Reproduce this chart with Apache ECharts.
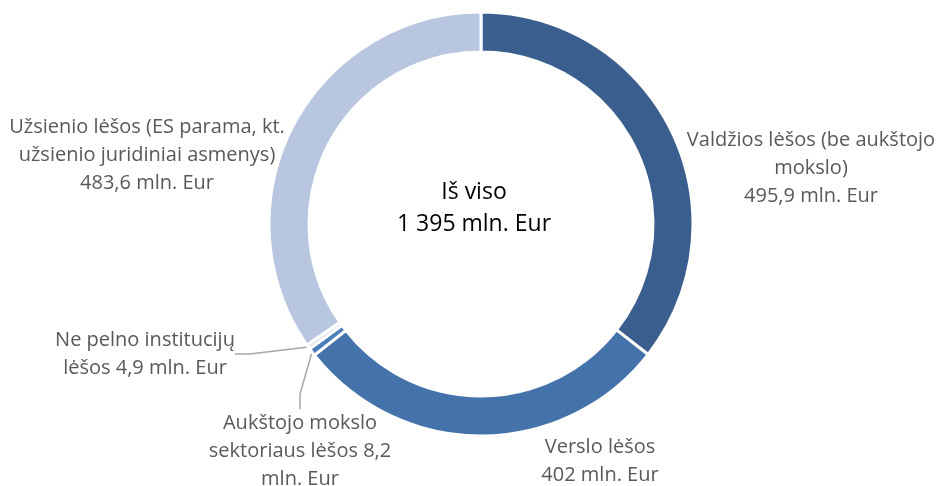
<!DOCTYPE html>
<html>
<head>
<meta charset="utf-8">
<script src="https://cdn.jsdelivr.net/npm/echarts@6/dist/echarts.min.js"></script>
<style>
  html, body { margin: 0; padding: 0; background: #fff; }
  #chart { width: 939px; height: 486px; }
</style>
</head>
<body>
<div id="chart"></div>
<script>
// duomenys
var categories = [
  "Valdžios lėšos (be aukštojo mokslo)",
  "Verslo lėšos",
  "Aukštojo mokslo sektoriaus lėšos",
  "Ne pelno institucijų lėšos",
  "Užsienio lėšos (ES parama, kt. užsienio juridiniai asmenys)"
];
var values = [495.9, 402, 8.2, 4.9, 483.6];
var labelTexts = [
  "Valdžios lėšos (be aukštojo\nmokslo)\n495,9 mln. Eur",
  "Verslo lėšos\n402 mln. Eur",
  "Aukštojo mokslo\nsektoriaus lėšos 8,2\nmln. Eur",
  "Ne pelno institucijų\nlėšos 4,9 mln. Eur",
  "Užsienio lėšos (ES parama, kt.\nužsienio juridiniai asmenys)\n483,6 mln. Eur"
];
var totalText = "Iš viso\n1 395 mln. Eur";

var colors = ["#3A5E8D", "#4472AA", "#4A7EBB", "#DCE3EF", "#B9C6E0"];
// etikečių vietos (centras)
var labelPos = [[811, 168], [600, 461], [300, 451], [145, 354], [147, 155]];

var chart = echarts.init(document.getElementById("chart"));

var data = values.map(function (v, i) {
  return {
    name: categories[i],
    value: v,
    itemStyle: { color: colors[i] },
    labelLine: { show: i === 2 || i === 3 }
  };
});

var option = {
  animation: false,
  textStyle: { fontFamily: "Open Sans" },
  graphic: [{
    type: "text",
    x: 474,
    y: 208,
    style: {
      text: totalText,
      fill: "#000",
      font: "23px 'Open Sans'",
      lineHeight: 32,
      textAlign: "center",
      textVerticalAlign: "middle"
    }
  }],
  series: [{
    type: "pie",
    center: [481, 224],
    radius: [172, 212],
    startAngle: 90,
    clockwise: true,
    avoidLabelOverlap: false,
    itemStyle: { borderColor: "#fff", borderWidth: 3 },
    label: {
      show: true,
      color: "#595959",
      fontSize: 20,
      lineHeight: 28,
      align: "center",
      formatter: function (p) { return labelTexts[p.dataIndex]; }
    },
    labelLine: {
      lineStyle: { color: "#A6A6A6", width: 1.5 },
      length: 10,
      length2: 15
    },
    labelLayout: function (p) {
      var pos = labelPos[p.dataIndex];
      return { x: pos[0], y: pos[1], align: "center", verticalAlign: "middle" };
    },
    data: data
  }]
};

chart.setOption(option);
window.onresize = function () { chart.resize(); };
</script>
</body>
</html>
